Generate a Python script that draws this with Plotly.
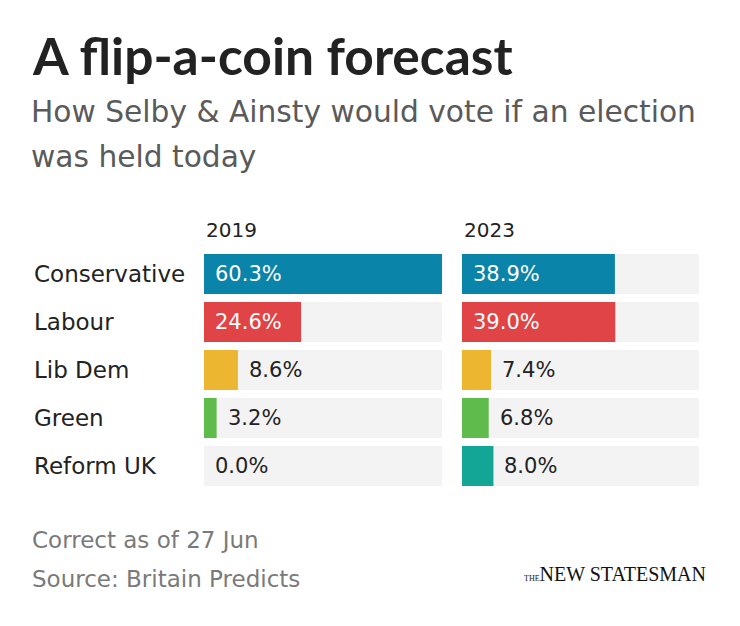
import plotly.graph_objects as go

parties = ["Conservative", "Labour", "Lib Dem", "Green", "Reform UK"]
years = ["2019", "2023"]
share_2019 = [60.3, 24.6, 8.6, 3.2, 0.0]
share_2023 = [38.9, 39.0, 7.4, 6.8, 8.0]
colors = ["#0a84a9", "#e04446", "#ecb630", "#5fbc4c", "#13a596"]

title = "A flip-a-coin forecast"
subtitle = ["How Selby & Ainsty would vote if an election", "was held today"]
notes = ["Correct as of 27 Jun", "Source: Britain Predicts"]

# page body has an 8px margin, so the figure starts at (8, 8)
OFF = 8
W, H = 740 - OFF, 626 - OFF
FONT = "DejaVu Sans"
TFONT = "Lato"
xmax = max(share_2019 + share_2023)

fig = go.Figure()
series = [share_2019, share_2023]
axes = [("x", "y"), ("x2", "y2")]
for vals, (xa, ya) in zip(series, axes):
    fig.add_trace(go.Bar(y=parties, x=[xmax] * len(parties), orientation="h",
                         marker=dict(color="#f3f3f3", line=dict(width=0)),
                         xaxis=xa, yaxis=ya, hoverinfo="skip", showlegend=False))
    fig.add_trace(go.Bar(y=parties, x=vals, orientation="h",
                         marker=dict(color=colors, line=dict(width=0)),
                         xaxis=xa, yaxis=ya, showlegend=False))


def px_x(p):
    return (p - OFF) / W


def px_y(p):
    return 1 - (p - OFF) / H


dom1 = [px_x(204), px_x(442)]
dom2 = [px_x(462), px_x(699)]
ydom = [px_y(490), px_y(250)]

ax_common = dict(range=[0, xmax], showgrid=False, zeroline=False, showticklabels=False,
                 showline=False, fixedrange=True)
ay_common = dict(autorange="reversed", showgrid=False, zeroline=False, showticklabels=False,
                 showline=False, domain=ydom, fixedrange=True)

fig.update_layout(
    width=W, height=H,
    margin=dict(l=0, r=0, t=0, b=0),
    paper_bgcolor="white", plot_bgcolor="white",
    barmode="overlay", bargap=8 / 48,
    xaxis=dict(domain=dom1, anchor="y", **ax_common),
    xaxis2=dict(domain=dom2, anchor="y2", **ax_common),
    yaxis=dict(anchor="x", **ay_common),
    yaxis2=dict(anchor="x2", **ay_common),
    font=dict(family=FONT, color="#222222"),
)

ann = []
ann.append(dict(text="<b>" + title + "</b>", x=px_x(30), y=px_y(55), xref="paper", yref="paper",
                xanchor="left", yanchor="middle", showarrow=False,
                font=dict(size=51.5, color="#222222", family=TFONT)))
for i, line in enumerate(subtitle):
    ann.append(dict(text=line, x=px_x(29), y=px_y(111.5 + 45.5 * i), xref="paper", yref="paper",
                    xanchor="left", yanchor="middle", showarrow=False,
                    font=dict(size=29.7, color="#5a5a5a", family=FONT)))
for yr, d in zip(years, [dom1, dom2]):
    ann.append(dict(text=yr, x=d[0], y=px_y(230), xref="paper", yref="paper",
                    xanchor="left", yanchor="middle", showarrow=False,
                    font=dict(size=20, color="#222222", family=FONT)))
for p in parties:
    ann.append(dict(text=p, x=px_x(32), y=p, xref="paper", yref="y",
                    xanchor="left", yanchor="middle", showarrow=False,
                    font=dict(size=23, color="#222222", family=FONT)))
for vals, (xa, ya) in zip(series, axes):
    for p, v in zip(parties, vals):
        inside = v > 20
        ann.append(dict(text=f"{v:.1f}%", x=0 if inside else v, y=p, xref=xa, yref=ya,
                        xanchor="left", yanchor="middle", xshift=9, showarrow=False,
                        font=dict(size=21, color="white" if inside else "#222222", family=FONT)))
for i, n in enumerate(notes):
    ann.append(dict(text=n, x=px_x(30), y=px_y(539.5 + 39 * i), xref="paper", yref="paper",
                    xanchor="left", yanchor="middle", showarrow=False,
                    font=dict(size=23, color="#7a7a7a", family=FONT)))
ann.append(dict(text="<span style='font-size:8px'>THE</span>NEW STATESMAN", x=px_x(708), y=px_y(574),
                xref="paper", yref="paper", xanchor="right", yanchor="middle", showarrow=False,
                font=dict(size=20, color="#111111", family="Liberation Serif")))

fig.update_layout(annotations=ann)
fig.write_html("out.html")
